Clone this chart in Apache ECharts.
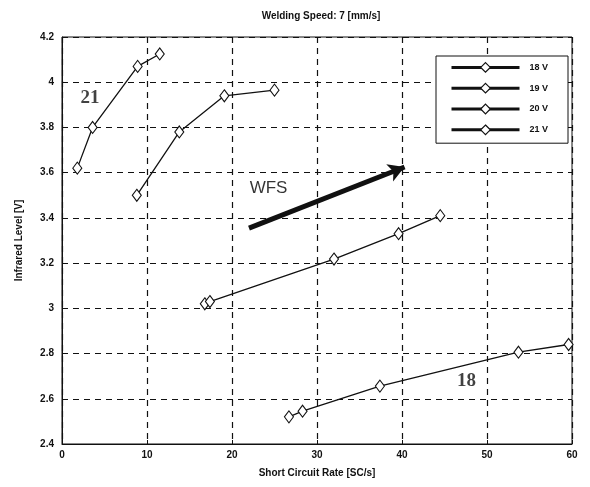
<!DOCTYPE html>
<html><head><meta charset="utf-8">
<script src="https://cdn.jsdelivr.net/npm/echarts@6/dist/echarts.min.js"></script>
<style>html,body{margin:0;padding:0;background:#fff}#c{width:590px;height:487px}</style>
</head><body><div id="c"></div>
<script>
const titleText = 'Welding Speed: 7 [mm/s]';
const xName = 'Short Circuit Rate [SC/s]';
const yName = 'Infrared Level [V]';
const seriesNames = ['18 V', '19 V', '20 V', '21 V'];
const s18 = [[26.7, 2.52], [28.3, 2.545], [37.4, 2.656], [53.7, 2.806], [59.6, 2.84]];
const s19 = [[16.8, 3.02], [17.4, 3.03], [32.0, 3.218], [39.6, 3.33], [44.5, 3.41]];
const s20 = [[8.8, 3.50], [13.8, 3.78], [19.1, 3.94], [25.0, 3.965]];
const s21 = [[1.8, 3.62], [3.6, 3.80], [8.9, 4.07], [11.5, 4.125]];
const arrowFrom = [22, 3.355];
const arrowTo = [40.3, 3.625];
const wfsLabel = {text: 'WFS', at: [24.3, 3.53]};
const curveLabels = [{text: '21', at: [3.3, 3.93]}, {text: '18', at: [47.6, 2.68]}];

const chart = echarts.init(document.getElementById('c'));
const allData = [s18, s19, s20, s21];
const font = 'Liberation Sans';
const series = allData.map((d, i) => ({
  name: seriesNames[i], type: 'line', data: d,
  symbol: 'diamond', symbolSize: [9, 12], showSymbol: true,
  itemStyle: {color: '#fff', borderColor: '#111', borderWidth: 1.1},
  lineStyle: {color: '#111', width: 1.3},
  emphasis: {disabled: true}, animation: false, z: 3
}));
series.push({
  type: 'line', data: [], silent: true, animation: false,
  markLine: {
    silent: true, symbol: ['none', 'arrow'], symbolSize: [14, 16],
    lineStyle: {color: '#111', width: 5, type: 'solid'}, label: {show: false},
    data: [[{coord: arrowFrom}, {coord: arrowTo}]]
  }
});
series.push({
  type: 'scatter', silent: true, animation: false, symbolSize: 0,
  data: [{value: wfsLabel.at, name: wfsLabel.text}],
  label: {show: true, formatter: '{b}', position: 'inside', color: '#000', fontSize: 17, fontFamily: font}
});
series.push({
  type: 'scatter', silent: true, animation: false, symbolSize: 0,
  data: curveLabels.map(c => ({value: c.at, name: c.text})),
  label: {show: true, formatter: '{b}', position: 'inside', color: '#111', fontSize: 19, fontWeight: 'bold', fontFamily: 'Liberation Serif'}
});

chart.setOption({
  animation: false,
  backgroundColor: '#fff',
  title: {text: titleText, left: 316, top: 6, textAlign: 'center',
    textStyle: {fontSize: 10, fontWeight: 'bold', color: '#111', fontFamily: font}},
  legend: {
    data: seriesNames, orient: 'vertical', left: 436, top: 56,
    itemWidth: 68, itemHeight: 12, itemGap: 10,
    borderColor: '#111', borderWidth: 1, padding: [6, 20, 8, 14],
    backgroundColor: '#fff',
    lineStyle: {width: 3, color: '#111'},
    itemStyle: {color: '#fff', borderColor: '#111', borderWidth: 1.2},
    textStyle: {fontSize: 9, fontWeight: 'bold', color: '#111', fontFamily: font, padding: [0, 0, 0, 5]}
  },
  grid: {left: 62, right: 18, top: 37, bottom: 43, show: true, borderColor: '#111', borderWidth: 1},
  xAxis: {
    type: 'value', min: 0, max: 60, interval: 10,
    name: xName, nameLocation: 'middle', nameGap: 24,
    nameTextStyle: {fontSize: 10, fontWeight: 'bold', color: '#111', fontFamily: font},
    axisLine: {lineStyle: {color: '#111'}},
    axisTick: {inside: true, length: 4, lineStyle: {color: '#111'}},
    axisLabel: {fontSize: 10, fontWeight: 'bold', color: '#111', fontFamily: font, margin: 6},
    splitLine: {show: true, lineStyle: {color: '#111', type: [6, 5], width: 1.2}}
  },
  yAxis: {
    type: 'value', min: 2.4, max: 4.2, interval: 0.2,
    name: yName, nameLocation: 'middle', nameGap: 38,
    nameTextStyle: {fontSize: 10, fontWeight: 'bold', color: '#111', fontFamily: font},
    axisLine: {lineStyle: {color: '#111'}},
    axisTick: {inside: true, length: 4, lineStyle: {color: '#111'}},
    axisLabel: {fontSize: 10, fontWeight: 'bold', color: '#111', fontFamily: font, margin: 8,
      formatter: v => String(Math.round(v * 10) / 10)},
    splitLine: {show: true, lineStyle: {color: '#111', type: [6, 5], width: 1.2}}
  },
  series: series
});
</script></body></html>
